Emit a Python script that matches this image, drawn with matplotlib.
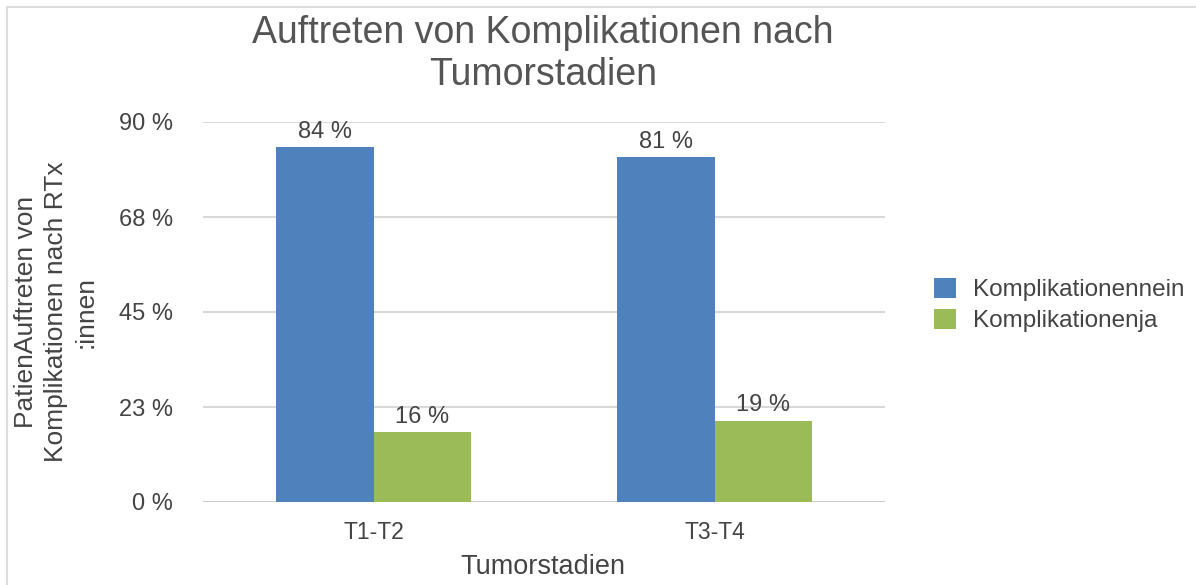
import matplotlib
matplotlib.use("Agg")
import matplotlib.pyplot as plt
from matplotlib.lines import Line2D
import numpy as np

plt.rcParams['font.family'] = ['Liberation Sans', 'DejaVu Sans']

categories = ["T1-T2", "T3-T4"]
series_names = ["Komplikationennein", "Komplikationenja"]
nein_values = [84.1, 81.6]
ja_values = [16.6, 19.3]
nein_labels = ["84 %", "81 %"]
ja_labels = ["16 %", "19 %"]
yticks = [0, 22.5, 45, 67.5, 90]
ytick_labels = ["0 %", "23 %", "45 %", "68 %", "90 %"]

blue = "#4f81bd"
green = "#9bbb59"
txt = "#444444"

fig = plt.figure(figsize=(11.96, 5.85), dpi=100)
ax = fig.add_axes([203/1196, 1-502/585, (885-203)/1196, (502-122)/585])

x = np.arange(len(categories))
w = 0.285
b1 = ax.bar(x - w/2, nein_values, w, color=blue, label=series_names[0], zorder=3)
b2 = ax.bar(x + w/2, ja_values, w, color=green, label=series_names[1], zorder=3)

for rect, lab in zip(b1, nein_labels):
    ax.text(rect.get_x() + rect.get_width()/2, rect.get_height() + 1.0, lab,
            ha="center", va="bottom", fontsize=17, color=txt, zorder=4)
for rect, lab in zip(b2, ja_labels):
    ax.text(rect.get_x() + rect.get_width()/2, rect.get_height() + 1.0, lab,
            ha="center", va="bottom", fontsize=17, color=txt, zorder=4)

ax.set_xlim(-0.5, 1.5)
ax.set_ylim(0, 90)
ax.set_yticks(yticks)
ax.set_yticklabels(ytick_labels, fontsize=17, color=txt)
ax.set_xticks(x)
ax.set_xticklabels(categories, fontsize=16.5, color=txt)
ax.tick_params(axis='both', length=0)
ax.tick_params(axis='y', pad=21.5)
ax.tick_params(axis='x', pad=14)
for s in ax.spines.values():
    s.set_visible(False)
ax.yaxis.grid(True, color="#d9d9d9", linewidth=1.5, zorder=0)
ax.axhline(0, color="#d0d0d0", linewidth=2, zorder=2)

fig.text(543/1196, 1-567/585, "Tumorstadien", ha="center", va="center",
         fontsize=19.5, color=txt)
fig.text(56/1196, 1-312/585, "PatienAuftreten von\nKomplikationen nach RTx\n:innen",
         rotation=90, ha="center", va="center", fontsize=19, color=txt,
         linespacing=1.3, multialignment="center")

fig.text(543/1196, 1-54/585, "Auftreten von Komplikationen nach\nTumorstadien",
         ha="center", va="center", fontsize=27, color="#555555", linespacing=1.2)

leg = fig.legend(handles=[b1, b2], labels=series_names, loc="center left",
                 bbox_to_anchor=(934/1196, 1-305/585), frameon=False,
                 fontsize=17.5, handlelength=0.9, handleheight=0.9,
                 labelspacing=0.3, handletextpad=0.7, borderaxespad=0, borderpad=0)
for t in leg.get_texts():
    t.set_color(txt)

fig.add_artist(Line2D([7/1196, 1], [1-7/585, 1-7/585], transform=fig.transFigure, color="#dddddd", linewidth=1.5))
fig.add_artist(Line2D([7/1196, 7/1196], [0, 1-7/585], transform=fig.transFigure, color="#dddddd", linewidth=1.5))

fig.savefig("out.png", dpi=100)
